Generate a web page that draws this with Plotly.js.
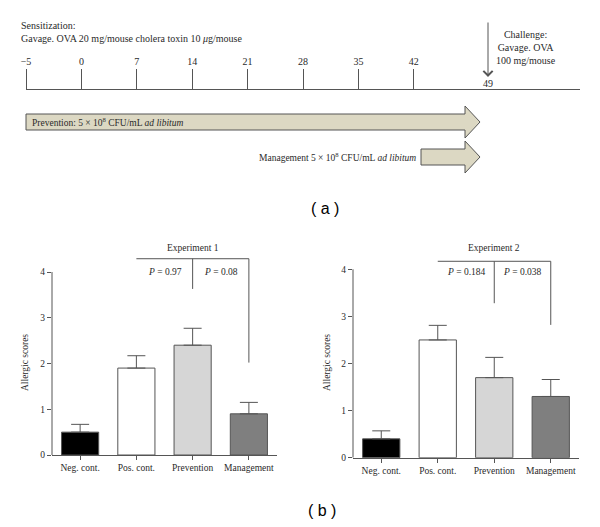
<!DOCTYPE html>
<html><head><meta charset="utf-8">
<script src="https://cdn.plot.ly/plotly-3.0.1.min.js"></script>
<style>html,body{margin:0;padding:0;background:#fff}</style>
</head><body><div id="chart" style="width:600px;height:527px"></div>
<script>
// ---- data ----
const timelineDays = ['\u22125','0','7','14','21','28','35','42'];
const challengeDay = '49';
const categories = ['Neg. cont.','Pos. cont.','Prevention','Management'];
const exp1Scores = [0.5, 1.9, 2.4, 0.9];
const exp1Errors = [0.17, 0.27, 0.37, 0.25];
const exp2Scores = [0.4, 2.5, 1.7, 1.3];
const exp2Errors = [0.17, 0.31, 0.43, 0.36];
const exp1P = ['0.97', '0.08'];
const exp2P = ['0.184', '0.038'];
const exp1Bracket = [4.29, 3.63, 2.02];   // bar top, middle drop end, right drop end
const exp2Bracket = [4.17, 3.28, 2.82];
const yTicks = [0, 1, 2, 3, 4];

// ---- styles ----
const W = 600, H = 527;
const SERIF = 'Liberation Serif, Times New Roman, DejaVu Serif, serif';
const SANS = 'Liberation Sans, Arial, sans-serif';
const INK = '#555555';
const TXT = '#2a2a2a';
const barColors = ['#000000', '#ffffff', '#d6d6d6', '#7f7f7f'];
const arrowFill = '#dcd8c3';
const px = v => v / W;
const py = v => 1 - v / H;

function barTrace(scores, errs, xa, ya) {
  return {
    type: 'bar', x: categories, y: scores, xaxis: xa, yaxis: ya, width: 0.66,
    marker: {color: barColors, line: {color: INK, width: 1}},
    error_y: {type: 'data', symmetric: false, array: errs, arrayminus: scores.map(() => 0),
              color: INK, thickness: 1, width: 9},
    hoverinfo: 'skip'
  };
}

const data = [
  barTrace(exp1Scores, exp1Errors, 'x', 'y'),
  barTrace(exp2Scores, exp2Errors, 'x2', 'y2'),
  {type: 'scatter', x: [], y: [], xaxis: 'x3', yaxis: 'y3', hoverinfo: 'skip'}
];

function xAx(domain, anchor) {
  return {domain: domain, anchor: anchor, type: 'category', range: [-0.5, 3.5],
    showline: true, linecolor: INK, linewidth: 1, ticks: 'outside', ticklen: 4, tickcolor: INK,
    showgrid: false, zeroline: false, tickfont: {family: SERIF, size: 9.5, color: TXT}, fixedrange: true};
}
function yAx(domain, anchor) {
  return {domain: domain, anchor: anchor, range: [0, 4.6], tickvals: yTicks,
    showline: false, ticks: 'outside', ticklen: 4, tickcolor: INK,
    showgrid: false, zeroline: false, tickfont: {family: SERIF, size: 9.5, color: TXT}, fixedrange: true};
}

function bracketShapes(b, xa, ya) {
  const L = {color: INK, width: 1};
  return [
    {type: 'line', xref: xa, yref: ya, x0: 1, x1: 3, y0: b[0], y1: b[0], line: L},
    {type: 'line', xref: xa, yref: ya, x0: 2, x1: 2, y0: b[0], y1: b[1], line: L},
    {type: 'line', xref: xa, yref: ya, x0: 3, x1: 3, y0: b[0], y1: b[2], line: L},
    {type: 'line', xref: xa + ' domain', yref: ya, x0: 0, x1: 0, y0: 0, y1: yTicks[yTicks.length - 1], line: L}
  ];
}
function bracketText(title, p, xa, ya, titleY, pY) {
  const f = {family: SERIF, size: 9.5, color: TXT};
  const base = {xref: xa, yref: ya, showarrow: false, font: f, xanchor: 'center', yanchor: 'middle'};
  return [
    Object.assign({x: 2, y: titleY, text: title}, base),
    Object.assign({x: 1.5, y: pY, text: '<i>P</i> = ' + p[0]}, base),
    Object.assign({x: 2.5, y: pY, text: '<i>P</i> = ' + p[1]}, base)
  ];
}

function arrowPath(x0, xh, xt, yc, hb, hh) {
  return 'M' + px(x0) + ',' + py(yc - hb) + ' L' + px(xh) + ',' + py(yc - hb) +
         ' L' + px(xh) + ',' + py(yc - hh) + ' L' + px(xt) + ',' + py(yc) +
         ' L' + px(xh) + ',' + py(yc + hh) + ' L' + px(xh) + ',' + py(yc + hb) +
         ' L' + px(x0) + ',' + py(yc + hb) + ' Z';
}

const shapes = [].concat(
  bracketShapes(exp1Bracket, 'x', 'y'),
  bracketShapes(exp2Bracket, 'x2', 'y2'),
  [
    {type: 'path', xref: 'paper', yref: 'paper', path: arrowPath(26, 465, 480, 122, 8, 16),
     fillcolor: arrowFill, line: {color: INK, width: 1}},
    {type: 'path', xref: 'paper', yref: 'paper', path: arrowPath(421, 465, 480, 157, 8, 16),
     fillcolor: arrowFill, line: {color: INK, width: 1}}
  ]
);

const tf = {family: SERIF, size: 10, color: TXT};
function note(x, y, text, opts) {
  return Object.assign({xref: 'paper', yref: 'paper', x: px(x), y: py(y), text: text, showarrow: false,
    xanchor: 'center', yanchor: 'middle', font: tf}, opts || {});
}
const annotations = [].concat(
  bracketText('Experiment 1', exp1P, 'x', 'y', 4.52, 4.0),
  bracketText('Experiment 2', exp2P, 'x2', 'y2', 4.45, 3.94),
  [
    note(25, 363, 'Allergic scores', {textangle: -90, font: {family: SERIF, size: 9.5, color: TXT}}),
    note(327, 363, 'Allergic scores', {textangle: -90, font: {family: SERIF, size: 9.5, color: TXT}}),
    note(19, 25, 'Sensitization:', {xanchor: 'left'}),
    note(19, 38, 'Gavage. OVA 20 mg/mouse cholera toxin 10 <i>\u03bc</i>g/mouse', {xanchor: 'left'}),
    note(526, 47, 'Challenge:<br>Gavage. OVA<br>100 mg/mouse', {align: 'center'}),
    {xref: 'paper', yref: 'paper', x: px(488), y: py(77), axref: 'paper', ayref: 'paper',
     ax: px(488), ay: py(21), text: '', showarrow: true,
     arrowhead: 4, arrowsize: 1.8, arrowwidth: 1, arrowcolor: INK},
    note(488, 83.5, challengeDay),
    note(30, 122, 'Prevention: 5 \u00d7 10<sup>8</sup> CFU/mL <i>ad libitum</i>',
         {xanchor: 'left', font: {family: SERIF, size: 9.5, color: TXT}}),
    note(418, 157, 'Management 5 \u00d7 10<sup>8</sup> CFU/mL <i>ad libitum</i>',
         {xanchor: 'right', font: {family: SERIF, size: 9.5, color: TXT}}),
    note(325, 208, '( a )', {font: {family: SANS, size: 16, color: '#000'}}),
    note(322, 510, '( b )', {font: {family: SANS, size: 16, color: '#000'}})
  ]
);

const layout = {
  width: W, height: H, autosize: false, margin: {l: 0, r: 0, t: 0, b: 0},
  paper_bgcolor: '#ffffff', plot_bgcolor: 'rgba(0,0,0,0)', showlegend: false,
  font: {family: SERIF, size: 10, color: TXT},
  xaxis: xAx([52 / W, 277 / W], 'y'),
  yaxis: yAx([1 - 455 / H, 1 - (455 - 4.6 * 45.75) / H], 'x'),
  xaxis2: xAx([353 / W, 579 / W], 'y2'),
  yaxis2: yAx([1 - 457.7 / H, 1 - (457.7 - 4.6 * 47.1) / H], 'x2'),
  xaxis3: {domain: [26 / W, 580 / W], anchor: 'y3', side: 'top', range: [0, 10],
    tickvals: timelineDays.map((d, i) => i), ticktext: timelineDays,
    ticks: 'outside', ticklen: 20, tickwidth: 1, tickcolor: INK,
    showline: true, linecolor: INK, linewidth: 1, showgrid: false, zeroline: false,
    tickfont: {family: SERIF, size: 10, color: TXT}, fixedrange: true},
  yaxis3: {domain: [0.72, 1 - 90 / H], anchor: 'x3', range: [0, 1], visible: false, fixedrange: true},
  shapes: shapes,
  annotations: annotations
};

Plotly.newPlot('chart', data, layout, {staticPlot: true, displayModeBar: false});
</script>
</body></html>
